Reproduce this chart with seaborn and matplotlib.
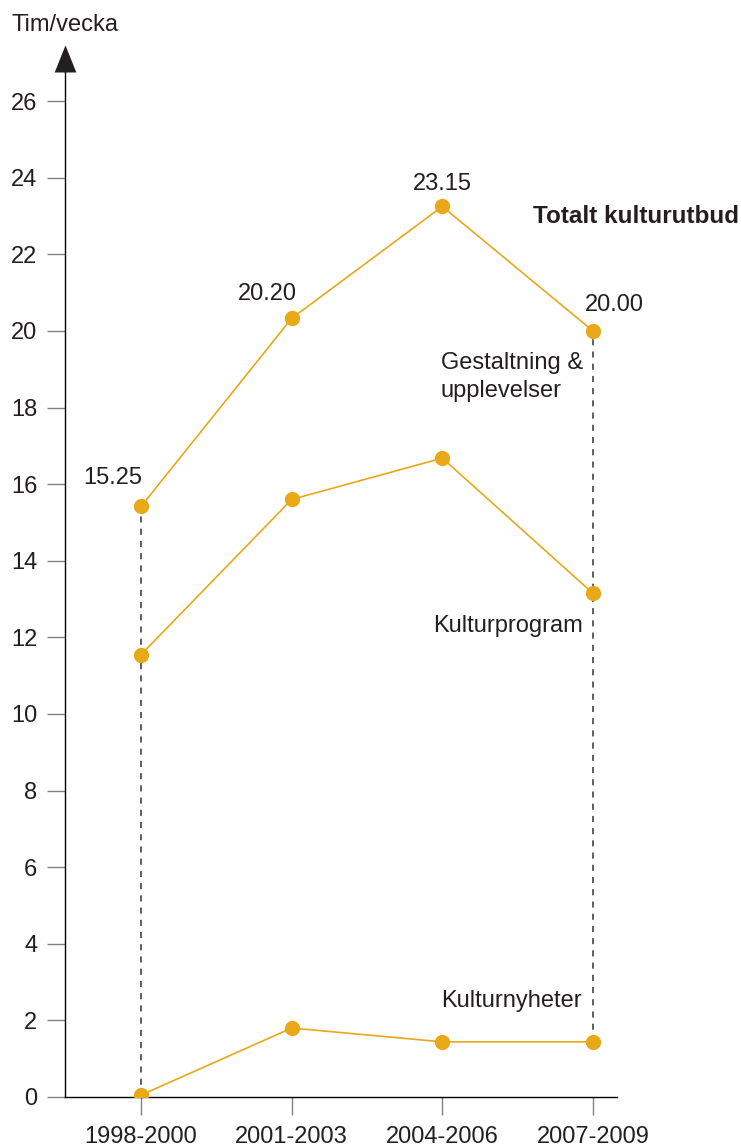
import matplotlib
matplotlib.use("Agg")
import matplotlib.pyplot as plt
import seaborn as sns
import pandas as pd

periods = ["1998-2000", "2001-2003", "2004-2006", "2007-2009"]
# hours per week (labels are hh.mm)
totalt = [15.42, 20.33, 23.25, 20.00]
totalt_labels = ["15.25", "20.20", "23.15", "20.00"]
kulturprogram = [11.55, 15.6, 16.68, 13.15]
kulturnyheter = [0.05, 1.8, 1.44, 1.44]
yticks = list(range(0, 27, 2))

sns.set_theme(style="white")
plt.rcParams["font.family"] = ["Liberation Sans", "DejaVu Sans"]

orange = "#E8A817"
grey_tick = "#808080"
txt = "#231f20"

fig = plt.figure(figsize=(7.41, 11.47), dpi=100)
ax = fig.add_axes([0.0877, 0.0436, 0.745, 0.8936])

for vals in (totalt, kulturprogram, kulturnyheter):
    df = pd.DataFrame({"period": periods, "tim": vals})
    sns.lineplot(data=df, x="period", y="tim", ax=ax, color=orange, lw=1.2,
                 marker="o", markersize=11, markeredgewidth=0, zorder=3)

# dashed drop lines
ax.vlines([0], [0], [totalt[0]], colors="#333333", linestyles=(0, (4, 4)), lw=1.1, zorder=2)
ax.vlines([3], [kulturnyheter[3]], [totalt[3]], colors="#333333", linestyles=(0, (4, 4)), lw=1.1, zorder=2)

ax.set_xlim(-0.505, 3.16)
ax.set_ylim(0, 26.76)
ax.set_yticks(yticks)
ax.set_xlabel("")
ax.set_ylabel("")

for s in ("top", "right"):
    ax.spines[s].set_visible(False)
for s in ("left", "bottom"):
    ax.spines[s].set_color("black")
    ax.spines[s].set_linewidth(1.0)

ax.tick_params(axis="y", direction="out", length=13, width=1, color=grey_tick,
               labelsize=17, labelcolor=txt, pad=7, left=True)
ax.tick_params(axis="x", direction="out", length=13, width=1, color=grey_tick,
               labelsize=17, labelcolor=txt, pad=8, bottom=True)

# arrow head on y axis
ax.plot([0], [1], transform=ax.transAxes, marker=[(-0.8, 0), (0.8, 0), (0, 2)],
        markersize=39, color="#231f20", clip_on=False, markeredgewidth=0)

ax.text(-0.097, 1.046, "Tim/vecka", transform=ax.transAxes, fontsize=17,
        color=txt, ha="left", va="center")

# value labels for total
offsets = [(-28, 28), (-24, 24), (0, 22), (21, 26)]
for i, (lab, (dx, dy)) in enumerate(zip(totalt_labels, offsets)):
    ax.annotate(lab, (i, totalt[i]), xytext=(dx / 1.389, dy / 1.389),
                textcoords="offset points", ha="center", va="center",
                fontsize=17, color=txt)

ax.text(3.97, 23.0, "Totalt kulturutbud", fontsize=17.5, fontweight="bold",
        color=txt, ha="right", va="center")
ax.text(1.99, 18.8, "Gestaltning &\nupplevelser", fontsize=17, color=txt,
        ha="left", va="center", linespacing=1.35)
ax.text(1.94, 12.3, "Kulturprogram", fontsize=17, color=txt, ha="left", va="center")
ax.text(1.99, 2.5, "Kulturnyheter", fontsize=17, color=txt, ha="left", va="center")

fig.savefig("out.png", dpi=100)
